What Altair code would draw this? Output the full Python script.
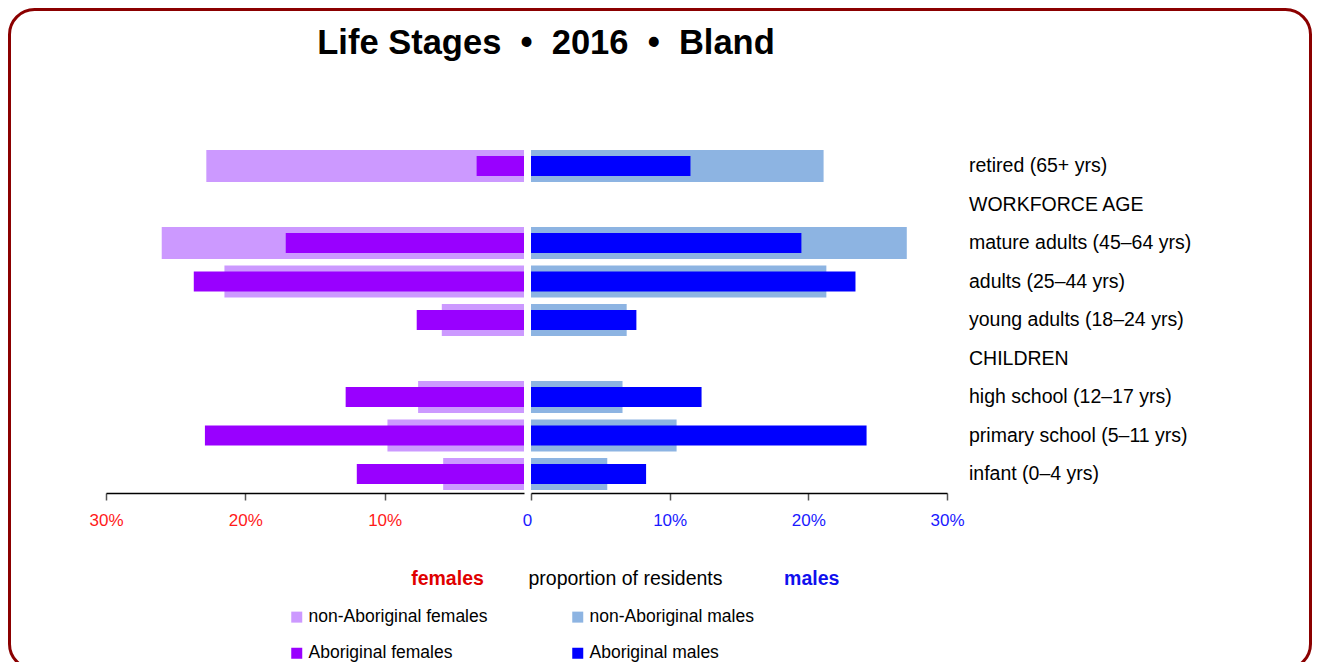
import altair as alt
import pandas as pd

FONT = "Liberation Sans"

# ---- data ----
rows = ["retired (65+ yrs)", "WORKFORCE AGE", "mature adults (45–64 yrs)",
        "adults (25–44 yrs)", "young adults (18–24 yrs)", "CHILDREN",
        "high school (12–17 yrs)", "primary school (5–11 yrs)", "infant (0–4 yrs)"]
bar_rows = ["retired (65+ yrs)", "mature adults (45–64 yrs)", "adults (25–44 yrs)",
            "young adults (18–24 yrs)", "high school (12–17 yrs)",
            "primary school (5–11 yrs)", "infant (0–4 yrs)"]
female_non = [22.8, 26.0, 21.5, 5.9, 7.6, 9.8, 5.8]
female_ab = [3.4, 17.1, 23.7, 7.7, 12.8, 22.9, 12.0]
male_non = [21.1, 27.1, 21.3, 6.9, 6.6, 10.5, 5.5]
male_ab = [11.5, 19.5, 23.4, 7.6, 12.3, 24.2, 8.3]
# legend fills column by column: this order gives rows (non-Ab f, non-Ab m) / (Ab f, Ab m)
series = ["non-Aboriginal females", "Aboriginal females", "non-Aboriginal males", "Aboriginal males"]
series_colors = ["#CC99FF", "#9900FF", "#8DB4E2", "#0000FF"]
ticks = [10, 20, 30]
ticks_m = [0, 10, 20, 30]
title_text = "Life Stages \u00a0•\u00a0 2016 \u00a0•\u00a0 Bland"


def frame(vals, name):
    return pd.DataFrame({"stage": bar_rows, "value": vals, "series": name})


df_fn = frame(female_non, "non-Aboriginal females")
df_fa = frame(female_ab, "Aboriginal females")
df_mn = frame(male_non, "non-Aboriginal males")
df_ma = frame(male_ab, "Aboriginal males")
df_rows = pd.DataFrame({"stage": rows})
one = pd.DataFrame({"k": [0]})

color_enc = alt.Color(
    "series:N",
    scale=alt.Scale(domain=series, range=series_colors),
    legend=alt.Legend(orient="none", legendX=280, legendY=600, columns=2, title=None,
                      symbolType="square", symbolSize=121, symbolStrokeWidth=0,
                      labelFontSize=17.5, labelFont=FONT, labelColor="#000000", labelLimit=0,
                      rowPadding=17.5, columnPadding=81, labelOffset=3, padding=0),
)
y_enc = alt.Y("stage:N", sort=rows,
              scale=alt.Scale(domain=rows, range=[138.75, 485.25], paddingInner=0, paddingOuter=0),
              axis=None)

f_scale = alt.Scale(domain=[0, 30], range=[516, 98])
m_scale = alt.Scale(domain=[0, 30], range=[523, 939])
axis_common = dict(orient="bottom", grid=False, title=None, tickSize=7, tickColor="#555555",
                   tickWidth=1.5, domainColor="#000000", domainWidth=1.5, labelFlush=False,
                   labelFontSize=17, labelFont=FONT, labelPadding=12)
f_axis = alt.Axis(values=ticks, labelExpr="datum.value + '%'", labelColor="#FF1A1A", **axis_common)
m_axis = alt.Axis(values=ticks_m, labelExpr="datum.value == 0 ? '0' : datum.value + '%'",
                  labelColor="#1A1AFF",
                  labelOffset={"condition": {"test": "datum.value === 0", "value": -4}, "value": 0},
                  **axis_common)


def bars(df, size, scale, axis):
    return alt.Chart(df).mark_bar(size=size).encode(
        x=alt.X("value:Q", scale=scale, axis=axis, stack=None),
        y=y_enc,
        color=color_enc,
    )


female = alt.layer(bars(df_fn, 32, f_scale, f_axis), bars(df_fa, 20, f_scale, f_axis))
male = alt.layer(bars(df_mn, 32, m_scale, m_axis), bars(df_ma, 20, m_scale, m_axis))

labels = alt.Chart(df_rows).mark_text(align="left", baseline="middle", font=FONT,
                                      fontSize=19.5, color="#000000").encode(
    x=alt.value(961), y=y_enc, text="stage:N")

border = alt.Chart(one).mark_rect(fillOpacity=0, stroke="#8B0000", strokeWidth=3,
                                  cornerRadius=25).encode(
    x=alt.value(1.5), x2=alt.value(1302.5), y=alt.value(1.5), y2=alt.value(661))


def txt(text, x, y, size, color="#000000", weight="normal"):
    return alt.Chart(one).mark_text(text=text, font=FONT, fontSize=size, fontWeight=weight,
                                    color=color, align="center", baseline="alphabetic").encode(
        x=alt.value(x), y=alt.value(y))


title = txt(title_text, 538, 46, 34.5, weight="bold")
t_f = txt("females", 439.5, 577, 19.5, "#E00000", "bold")
t_p = txt("proportion of residents", 617.5, 577, 19.5)
t_m = txt("males", 803.7, 577, 19.5, "#1010EE", "bold")

chart = alt.layer(border, female, male, labels, title, t_f, t_p, t_m).resolve_scale(
    x="independent"
).properties(
    width=1304, height=485,
    padding={"left": 0, "top": 0, "right": 0, "bottom": 169},
    autosize=alt.AutoSizeParams(type="none"),
).configure_view(stroke=None)

chart.save("out.html", embed_options={"renderer": "svg", "actions": False})
